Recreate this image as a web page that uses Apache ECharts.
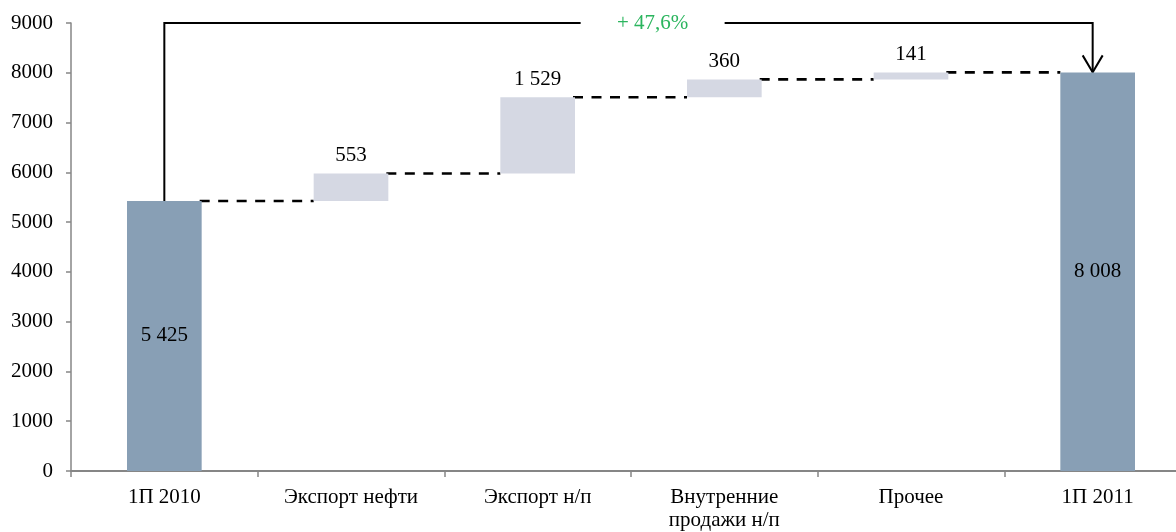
<!DOCTYPE html>
<html>
<head>
<meta charset="utf-8">
<script src="https://cdn.jsdelivr.net/npm/echarts@6/dist/echarts.min.js"></script>
<style>
html,body{margin:0;padding:0;background:#fff;overflow:hidden;width:1176px;height:532px;}
#chart{width:1200px;height:532px;}
</style>
</head>
<body>
<div id="chart"></div>
<script>
// ---- data ----
const categories = ['1П 2010', 'Экспорт нефти', 'Экспорт н/п', 'Внутренние\nпродажи н/п', 'Прочее', '1П 2011'];
const totals = [5425, null, null, null, null, 8008];
const deltas = [null, 553, 1529, 360, 141, null];
const growthLabel = '+ 47,6%';
const yMin = 0, yMax = 9000, yInterval = 1000;

// ---- derived waterfall helpers ----
const helper = [];
const levels = [];
let run = 0;
for (let i = 0; i < categories.length; i++) {
  if (totals[i] != null) { helper.push(0); run = totals[i]; }
  else { helper.push(run); run += deltas[i]; }
  levels.push(run);
}
const connectors = [];
for (let i = 0; i < categories.length - 1; i++) connectors.push([i, levels[i]]);

function fmt(v) { return String(v).replace(/\B(?=(\d{3})+(?!\d))/g, ' '); }

const FONT = "'Liberation Serif', 'Times New Roman', serif";
const chart = echarts.init(document.getElementById('chart'), null, { renderer: 'canvas' });

const option = {
  animation: false,
  backgroundColor: '#ffffff',
  textStyle: { fontFamily: FONT },
  grid: { left: 71, top: 23, width: 1120, bottom: 61, containLabel: false },
  xAxis: {
    type: 'category',
    data: categories,
    axisLine: { lineStyle: { color: '#868686', width: 2 } },
    axisTick: { show: true, alignWithLabel: false, length: 6, lineStyle: { color: '#868686', width: 1.5 } },
    axisLabel: { color: '#000', fontFamily: FONT, fontSize: 21, margin: 15, lineHeight: 23, interval: 0 }
  },
  yAxis: {
    type: 'value',
    min: yMin, max: yMax, interval: yInterval,
    splitLine: { show: false },
    axisLine: { show: true, lineStyle: { color: '#868686', width: 1.5 } },
    axisTick: { show: true, length: 5, lineStyle: { color: '#868686', width: 1.5 } },
    axisLabel: { color: '#000', fontFamily: FONT, fontSize: 21, margin: 18, formatter: v => String(v) }
  },
  series: [
    {
      type: 'bar', stack: 'w', barWidth: '40%', silent: true,
      itemStyle: { color: 'transparent' },
      data: helper
    },
    {
      type: 'bar', stack: 'w', barWidth: '40%',
      itemStyle: { color: '#889fb5' },
      label: { show: true, position: 'inside', color: '#000', fontFamily: FONT, fontSize: 21,
        formatter: p => fmt(p.value) },
      data: totals.map(v => v == null ? '-' : v)
    },
    {
      type: 'bar', stack: 'w', barWidth: '40%',
      itemStyle: { color: '#d5d8e3' },
      label: { show: true, position: 'top', distance: 7, color: '#000', fontFamily: FONT, fontSize: 21,
        formatter: p => fmt(p.value) },
      data: deltas.map(v => v == null ? '-' : v)
    },
    {
      type: 'custom',
      silent: true,
      data: connectors,
      encode: { x: 0, y: 1 },
      renderItem: function (params, api) {
        const i = api.value(0), v = api.value(1);
        const a = api.coord([i, v]);
        const b = api.coord([i + 1, v]);
        const half = api.size([1, 0])[0] * 0.2;
        return {
          type: 'line',
          shape: { x1: a[0] + half - 2, y1: a[1], x2: b[0] - half, y2: b[1] },
          style: { stroke: '#000', lineWidth: 2.6, lineDash: [10, 8.5] }
        };
      }
    },
    {
      type: 'custom',
      silent: true,
      data: [[0, totals[0], categories.length - 1, totals[categories.length - 1], yMax]],
      encode: { x: 0, y: 1 },
      renderItem: function (params, api) {
        const s = api.coord([api.value(0), api.value(1)]);
        const st = api.coord([api.value(0), api.value(4)]);
        const e = api.coord([api.value(2), api.value(3)]);
        const x0 = s[0], x1 = e[0] - 5;
        const yTop = st[1];
        const tx = x0 + (x1 - x0) * 0.526;
        const gap = 72;
        const ls = { stroke: '#000', lineWidth: 2, fill: null };
        return {
          type: 'group',
          children: [
            { type: 'polyline', shape: { points: [[x0, s[1]], [x0, yTop], [tx - gap, yTop]] }, style: ls },
            { type: 'polyline', shape: { points: [[tx + gap, yTop], [x1, yTop], [x1, e[1]]] }, style: ls },
            { type: 'polyline', shape: { points: [[x1 - 10, e[1] - 17], [x1, e[1]], [x1 + 10, e[1] - 17]] }, style: ls },
            { type: 'text', x: tx, y: yTop,
              style: { text: growthLabel, fill: '#2bb55e', fontFamily: FONT, fontSize: 21, align: 'center', verticalAlign: 'middle' } }
          ]
        };
      }
    }
  ]
};
chart.setOption(option);
</script>
</body>
</html>
